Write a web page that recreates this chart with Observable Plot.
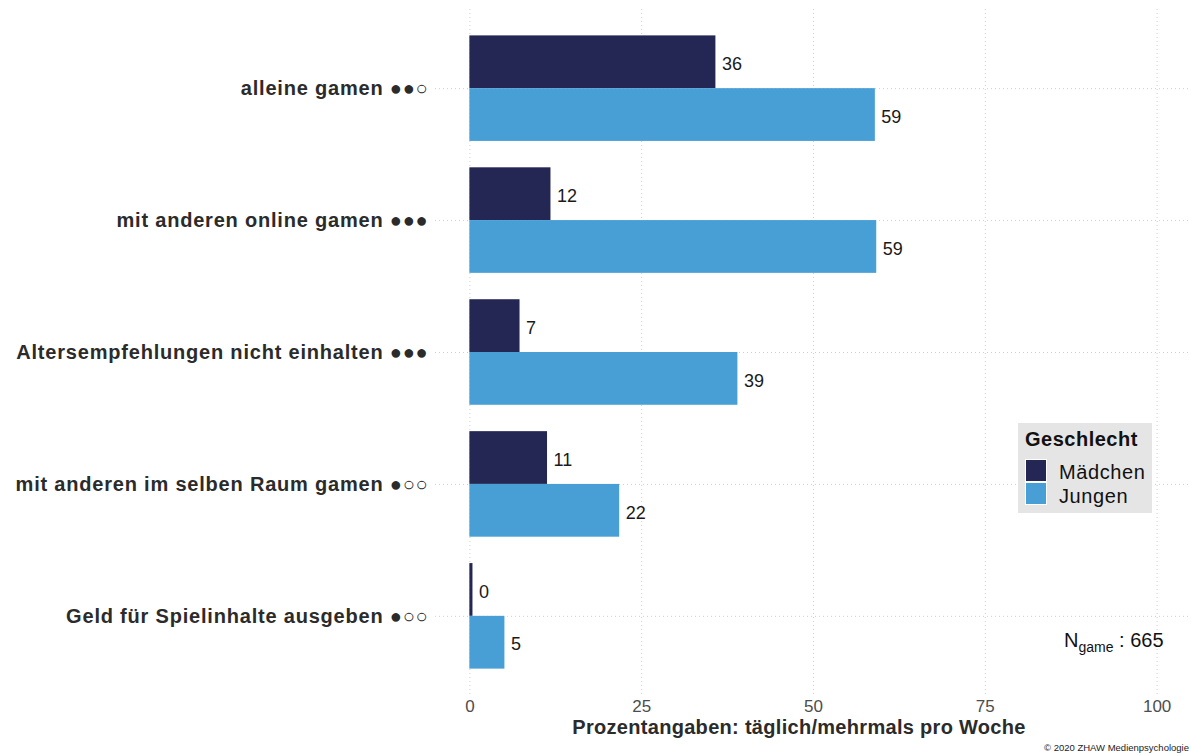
<!DOCTYPE html>
<html><head><meta charset="utf-8">
<script src="https://cdn.jsdelivr.net/npm/d3@7"></script>
<script src="https://cdn.jsdelivr.net/npm/@observablehq/plot@0.6"></script>
<style>
body{margin:0;background:#fff;font-family:"Liberation Sans",Arial,Helvetica,sans-serif;}
#wrap{position:relative;width:1191px;height:755px;overflow:hidden;}
#wrap svg{position:absolute;left:0;top:0;}
#wrap svg [aria-label="y-axis tick label"]{letter-spacing:0.8px;}
.xlab{position:absolute;top:716px;left:799px;transform:translateX(-50%);font-size:20px;font-weight:bold;color:#2b2b2b;white-space:nowrap;letter-spacing:0.3px;}
.legend{position:absolute;left:1018px;top:423px;width:134px;height:90px;background:#e5e5e5;}
.legend .t{position:absolute;left:7px;top:5px;font-size:20px;font-weight:bold;color:#111;letter-spacing:0.5px;}
.legend .sw{position:absolute;left:7px;width:22px;height:23px;border:1px solid #fff;box-sizing:border-box;}
.legend .l{position:absolute;left:41px;font-size:20px;color:#111;white-space:nowrap;letter-spacing:0.6px;}
.nlab{position:absolute;left:1064px;top:629px;font-size:20px;color:#111;white-space:nowrap;}
.nlab sub{font-size:14px;vertical-align:-5px;}
.cap{position:absolute;right:2px;top:742px;font-size:9.5px;color:#222;white-space:nowrap;}
</style></head><body><div id="wrap"></div>
<script>
const categories = [
  "alleine gamen ●●○",
  "mit anderen online gamen ●●●",
  "Altersempfehlungen nicht einhalten ●●●",
  "mit anderen im selben Raum gamen ●○○",
  "Geld für Spielinhalte ausgeben ●○○"
];
const genders = ["Mädchen", "Jungen"];
const valuesMaedchen = [35.8, 11.8, 7.3, 11.3, 0.45];
const valuesJungen = [59.0, 59.2, 39.0, 21.8, 5.1];
const xTicks = [0, 25, 50, 75, 100];
const colors = ["#242654", "#479fd6"];
const legendTitle = "Geschlecht";
const xLabel = "Prozentangaben: täglich/mehrmals pro Woche";
const nValue = 665;
const caption = "© 2020 ZHAW Medienpsychologie";

// dodged bars: each category occupies 0.8 of its slot, split between the two groups
const barWidth = 0.8;
const series = [valuesMaedchen, valuesJungen];
const data = categories.flatMap((c, i) => genders.map((g, k) => {
  const y1 = i - barWidth / 2 + k * barWidth / 2;
  return {cat: c, idx: i, g, v: series[k][i], y1, y2: y1 + barWidth / 2, ym: y1 + barWidth / 4};
}));
const catIndex = categories.map((c, i) => i);

const gridStyle = {stroke: "#cfcfcf", strokeOpacity: 1, strokeWidth: 1, strokeDasharray: "1,3"};

const chart = Plot.plot({
  width: 1191, height: 755,
  marginLeft: 435, marginRight: 0, marginTop: 9, marginBottom: 60,
  style: {fontFamily: '"Liberation Sans", Arial, sans-serif', background: "transparent"},
  x: {domain: [-5, 105], axis: null},
  y: {domain: [categories.length - 0.4, -0.6], axis: null},
  color: {domain: genders, range: colors},
  marks: [
    Plot.gridX(xTicks, {...gridStyle}),
    Plot.gridY(catIndex, {...gridStyle}),
    Plot.rect(data, {x1: 0, x2: "v", y1: "y1", y2: "y2", fill: "g"}),
    Plot.text(data, {x: "v", y: "ym", text: d => String(Math.round(d.v)),
      textAnchor: "start", dx: 6, dy: 2, fontSize: 18, fill: "#1a1a1a"}),
    Plot.axisY(catIndex, {anchor: "left", label: null, tickSize: 0, tickPadding: 7,
      tickFormat: i => categories[i],
      fontSize: 20, fontWeight: "bold", fill: "#2b2b2b"}),
    Plot.axisX(xTicks, {anchor: "bottom", label: null, tickSize: 0, tickPadding: 4,
      fontSize: 17, fill: "#4d4d4d"})
  ]
});

const wrap = document.getElementById("wrap");
wrap.appendChild(chart);

const xl = document.createElement("div");
xl.className = "xlab"; xl.textContent = xLabel; wrap.appendChild(xl);

const lg = document.createElement("div");
lg.className = "legend";
lg.innerHTML = `<div class="t">${legendTitle}</div>` +
  genders.map((g, i) => `<div class="sw" style="top:${36 + i * 23}px;background:${colors[i]}"></div>` +
    `<div class="l" style="top:${38 + i * 24}px">${g}</div>`).join("");
wrap.appendChild(lg);

const nl = document.createElement("div");
nl.className = "nlab";
nl.innerHTML = `N<sub>game</sub> : ${nValue}`;
wrap.appendChild(nl);

const cp = document.createElement("div");
cp.className = "cap"; cp.textContent = caption; wrap.appendChild(cp);
</script></body></html>
